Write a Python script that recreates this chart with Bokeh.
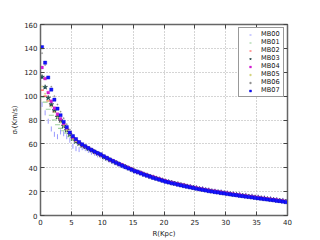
import numpy as np
from bokeh.plotting import figure
from bokeh.models import Range1d, FixedTicker, LinearAxis, Legend, LegendItem
from bokeh.embed import file_html
from bokeh.resources import INLINE

R = [0.25, 0.75, 1.25, 1.75, 2.25, 2.75, 3.25, 3.75, 4.25, 4.75,
     5.25, 5.75, 6.25, 6.75, 7.25, 7.75, 8.25, 8.75, 9.25, 9.75,
     10.25, 10.75, 11.25, 11.75, 12.25, 12.75, 13.25, 13.75, 14.25, 14.75,
     15.25, 15.75, 16.25, 16.75, 17.25, 17.75, 18.25, 18.75, 19.25, 19.75,
     20.25, 20.75, 21.25, 21.75, 22.25, 22.75, 23.25, 23.75, 24.25, 24.75,
     25.25, 25.75, 26.25, 26.75, 27.25, 27.75, 28.25, 28.75, 29.25, 29.75,
     30.25, 30.75, 31.25, 31.75, 32.25, 32.75, 33.25, 33.75, 34.25, 34.75,
     35.25, 35.75, 36.25, 36.75, 37.25, 37.75, 38.25, 38.75, 39.25, 39.75]

MB00 = [93, 86, 79, 72.5, 68, 66, 70, 68.5, 66, 63,
        58, 56, 55.2, 56.8, 56.0, 54.5, 53.0, 52.2, 50.8, 49.9,
        48.6, 47.4, 46.0, 45.0, 43.8, 42.6, 41.4, 40.5, 39.5, 38.2,
        36.9, 36.0, 35.2, 34.4, 33.5, 32.5, 31.8, 31.0, 30.3, 29.5,
        28.6, 28.2, 27.2, 26.8, 26.2, 25.5, 25.3, 24.4, 24.3, 23.3,
        23.3, 22.3, 22.6, 21.5, 21.6, 20.5, 20.5, 19.7, 19.9, 18.9,
        19.0, 18.0, 18.3, 17.3, 17.6, 16.7, 17.0, 16.0, 16.3, 15.3,
        15.6, 14.6, 14.9, 13.9, 14.1, 13.2, 13.4, 12.5, 12.7, 11.8]
MB01 = [99, 95, 89, 84, 80, 76, 73, 71, 69, 66,
        63.2, 61.5, 59.9, 58.3, 57.0, 55.7, 54.3, 53.0, 51.8, 50.5,
        49.0, 47.7, 46.5, 45.3, 44.1, 43.0, 41.8, 40.8, 39.7, 38.6,
        37.2, 36.3, 35.4, 34.5, 33.6, 32.8, 31.9, 31.2, 30.4, 29.6,
        28.7, 28.1, 27.5, 26.9, 26.3, 25.7, 25.1, 24.5, 24.0, 23.4,
        22.9, 22.4, 21.9, 21.4, 21.0, 20.5, 20.1, 19.7, 19.3, 18.9,
        18.5, 18.1, 17.8, 17.4, 17.1, 16.7, 16.4, 16.0, 15.7, 15.3,
        15.0, 14.6, 14.3, 13.9, 13.6, 13.2, 12.9, 12.5, 12.2, 11.8]
MB02 = [105, 100, 96, 92, 87, 83.5, 80, 76.5, 72.5, 69,
        64.8, 62.8, 60.9, 59.4, 57.9, 56.6, 55.2, 53.9, 52.5, 51.2,
        49.7, 48.3, 47.1, 45.9, 44.6, 43.5, 42.3, 41.2, 40.1, 39.0,
        37.7, 36.7, 35.8, 34.9, 34.0, 33.1, 32.3, 31.5, 30.7, 29.9,
        29.0, 28.4, 27.8, 27.2, 26.6, 26.0, 25.4, 24.8, 24.2, 23.7,
        23.2, 22.7, 22.2, 21.7, 21.2, 20.8, 20.4, 20.0, 19.6, 19.2,
        18.8, 18.4, 18.0, 17.7, 17.3, 17.0, 16.6, 16.3, 15.9, 15.6,
        15.2, 14.9, 14.5, 14.2, 13.8, 13.5, 13.1, 12.8, 12.4, 12.1]
MB03 = [116, 107.5, 98.5, 93, 88, 82.5, 79.5, 75, 71.5, 68,
        64.5, 62.0, 60.2, 58.6, 57.4, 55.9, 54.6, 53.2, 52.0, 50.6,
        49.0, 47.8, 46.5, 45.3, 44.2, 43.0, 41.9, 40.8, 39.6, 38.6,
        37.3, 36.3, 35.5, 34.5, 33.7, 32.7, 32.0, 31.1, 30.4, 29.5,
        28.7, 28.0, 27.5, 26.8, 26.3, 25.6, 25.1, 24.4, 23.9, 23.3,
        22.9, 22.3, 21.9, 21.3, 20.9, 20.4, 20.1, 19.6, 19.3, 18.8,
        18.5, 18.0, 17.7, 17.3, 17.0, 16.6, 16.3, 15.9, 15.6, 15.2,
        14.9, 14.5, 14.2, 13.8, 13.5, 13.1, 12.8, 12.4, 12.1, 11.7]
MB04 = [124, 114.6, 103, 95.7, 90, 85, 81, 77, 73, 69.5,
        65.5, 63.0, 61.0, 59.2, 57.8, 56.5, 55.0, 53.4, 52.0, 50.8,
        49.5, 48.2, 46.6, 45.8, 44.5, 43.0, 42.3, 41.0, 40.1, 38.9,
        37.6, 36.4, 35.8, 34.6, 33.9, 32.8, 32.3, 31.2, 30.7, 29.6,
        29.0, 28.1, 27.8, 26.9, 26.5, 25.7, 25.4, 24.5, 24.2, 23.4,
        23.2, 22.4, 22.1, 21.4, 21.2, 20.5, 20.4, 19.7, 19.5, 18.9,
        18.8, 18.1, 17.9, 17.4, 17.2, 16.7, 16.5, 16.0, 15.8, 15.3,
        15.1, 14.6, 14.4, 13.9, 13.7, 13.2, 13.0, 12.5, 12.3, 11.8]
MB05 = [108, 102, 96, 91, 86.5, 82, 78, 75, 71.5, 68,
        63.8, 62.1, 60.4, 58.9, 57.5, 56.1, 54.7, 53.4, 52.1, 50.8,
        49.2, 47.9, 46.7, 45.5, 44.3, 43.1, 42.0, 40.9, 39.8, 38.7,
        37.3, 36.4, 35.5, 34.6, 33.7, 32.8, 32.0, 31.2, 30.4, 29.6,
        28.7, 28.1, 27.5, 26.9, 26.3, 25.7, 25.1, 24.5, 23.9, 23.4,
        22.9, 22.4, 21.9, 21.4, 20.9, 20.5, 20.1, 19.7, 19.3, 18.9,
        18.5, 18.1, 17.7, 17.4, 17.0, 16.7, 16.3, 16.0, 15.6, 15.3,
        14.9, 14.6, 14.2, 13.9, 13.5, 13.2, 12.8, 12.5, 12.1, 11.8]
MB06 = [136, 126, 116, 108, 100, 93, 87, 81.5, 76.5, 72,
        67, 64.3, 61.8, 59.9, 58.2, 56.7, 55.2, 53.8, 52.4, 51.0,
        49.4, 48.1, 46.8, 45.6, 44.4, 43.2, 42.1, 41.0, 39.9, 38.8,
        37.4, 36.5, 35.6, 34.7, 33.8, 32.9, 32.1, 31.3, 30.5, 29.7,
        28.8, 28.2, 27.6, 27.0, 26.4, 25.8, 25.2, 24.6, 24.0, 23.5,
        23.0, 22.5, 22.0, 21.5, 21.0, 20.6, 20.2, 19.8, 19.4, 19.0,
        18.6, 18.2, 17.8, 17.5, 17.1, 16.8, 16.4, 16.1, 15.7, 15.4,
        15.0, 14.7, 14.3, 14.0, 13.6, 13.3, 12.9, 12.6, 12.2, 11.9]
MB07 = [141, 128, 115.6, 105.5, 97, 89.5, 84, 78.5, 74, 69.5,
        66.5, 64, 61.5, 59.6, 58.0, 56.4, 55.0, 53.6, 52.3, 51.2,
        49.6, 48.3, 46.9, 45.5, 44.2, 43.0, 41.8, 40.6, 39.5, 38.4,
        37.2, 36.6, 35.3, 34.3, 33.4, 32.6, 31.6, 30.8, 30.0, 29.2,
        28.4, 27.7, 27.0, 26.6, 25.8, 25.3, 24.6, 24.2, 23.5, 23.1,
        22.4, 22.0, 21.5, 21.0, 20.4, 20.1, 19.6, 19.3, 18.8, 18.5,
        18.0, 17.7, 17.2, 17.0, 16.5, 16.2, 15.8, 15.5, 15.1, 14.8,
        14.4, 14.1, 13.7, 13.4, 13.0, 12.8, 12.3, 12.1, 11.6, 11.2]

labels = ["MB00", "MB01", "MB02", "MB03", "MB04", "MB05", "MB06", "MB07"]
x_ticks = [0, 5, 10, 15, 20, 25, 30, 35, 40]
y_ticks = [0, 20, 40, 60, 80, 100, 120, 140, 160]

FONT = "DejaVu Sans"
FRAME = "#666666"

p = figure(width=320, height=240, output_backend="svg", toolbar_location=None,
           x_range=Range1d(0, 40), y_range=Range1d(0, 160),
           min_border_left=40, min_border_right=33, min_border_top=24,
           min_border_bottom=25)
p.outline_line_color = FRAME
p.outline_line_width = 1.5
p.background_fill_color = "white"
p.border_fill_color = "white"

for ax in (p.xaxis[0], p.yaxis[0]):
    ax.major_tick_in = 4
    ax.major_tick_out = 0
    ax.minor_tick_line_color = None
    ax.axis_line_color = FRAME
    ax.major_tick_line_color = "#444444"
    ax.major_label_text_font = FONT
    ax.major_label_text_font_size = "7px"
    ax.major_label_text_color = "#222222"
    ax.axis_label_text_font = FONT
    ax.axis_label_text_font_size = "7px"
    ax.axis_label_text_font_style = "normal"
    ax.axis_label_text_color = "#222222"
    ax.major_label_standoff = 3
    ax.axis_label_standoff = 2
p.xaxis[0].ticker = FixedTicker(ticks=x_ticks)
p.yaxis[0].ticker = FixedTicker(ticks=y_ticks)
p.xaxis[0].axis_label = "R(Kpc)"
p.yaxis[0].axis_label = "σᵣ(Km/s)"

p.xgrid[0].ticker = FixedTicker(ticks=x_ticks)
p.ygrid[0].ticker = FixedTicker(ticks=y_ticks)
for g in (p.xgrid[0], p.ygrid[0]):
    g.grid_line_color = "#aaaaaa"
    g.grid_line_dash = "1 2"
    g.grid_line_width = 1

# mirrored ticks on top and right (no labels)
top = LinearAxis(ticker=FixedTicker(ticks=x_ticks),
                 major_label_overrides={t: "" for t in x_ticks},
                 major_label_standoff=0,
                 major_tick_in=4, major_tick_out=0, minor_tick_line_color=None,
                 axis_line_color=FRAME, major_tick_line_color="#444444")
right = LinearAxis(ticker=FixedTicker(ticks=y_ticks),
                   major_label_overrides={t: "" for t in y_ticks},
                   major_label_standoff=0,
                   major_tick_in=4, major_tick_out=0, minor_tick_line_color=None,
                   axis_line_color=FRAME, major_tick_line_color="#444444")
p.add_layout(top, "above")
p.add_layout(right, "right")

series = [MB00, MB01, MB02, MB03, MB04, MB05, MB06, MB07]
styles = [
    dict(marker="dash", size=5, angle=np.pi / 2, line_color="#9a9aff", line_width=1),
    dict(marker="dash", size=5, line_color="#9ccf9c", line_width=1.1),
    dict(marker="dash", size=3.5, line_color="#ff5050", line_width=1.1),
    dict(marker="star", size=5, fill_color="#1e5a5a", line_color="#0a2a2a", line_width=0.5),
    dict(marker="square", size=2.8, fill_color="#d21ed2", line_color="#d21ed2", line_width=0.3),
    dict(marker="circle", size=1.6, fill_color="#d2d27a", line_color="#d2d27a", line_width=0.3),
    dict(marker="circle", size=1.4, fill_color="#8c8c8c", line_color="#8c8c8c", line_width=0.3),
    dict(marker="square", size=3.2, fill_color="#1414ff", line_color="#0000cc", line_width=0.4),
]

items = []
for lab, vals, st in zip(labels, series, styles):
    r = p.scatter(x=R, y=vals, **st)
    items.append(LegendItem(label=lab, renderers=[r]))

legend = Legend(items=items, location="top_right")
legend.label_text_font = FONT
legend.label_text_font_size = "6.6px"
legend.label_text_line_height = 1.0
legend.label_text_color = "#111111"
legend.label_height = 5
legend.glyph_height = 5
legend.glyph_width = 18
legend.label_standoff = 2
legend.spacing = 0
legend.padding = 2
legend.margin = 3
legend.border_line_color = "#333333"
legend.border_line_width = 1
legend.background_fill_alpha = 1
p.add_layout(legend)

open("out.html", "w").write(file_html(p, INLINE))
